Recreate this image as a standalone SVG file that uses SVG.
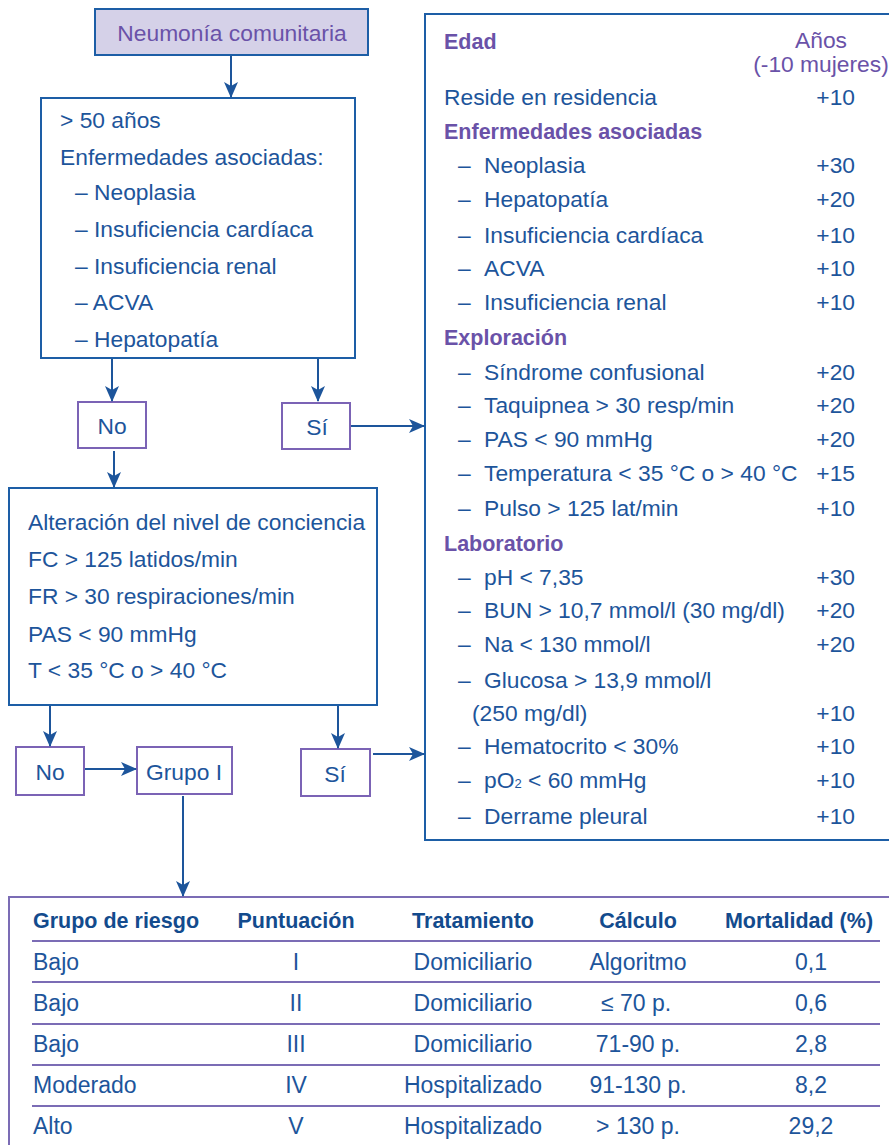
<svg xmlns="http://www.w3.org/2000/svg" width="889" height="1145" viewBox="0 0 889 1145">
<style>
text{font-family:"Liberation Sans",Arial,sans-serif;fill:#1d559b;font-size:22.8px}
.pu{fill:#6a52a8}
.b{font-weight:bold;font-size:21.5px}
.bx{fill:#fff;stroke:#1d5ea6;stroke-width:2}
.sm{fill:#fff;stroke:#7b63b5;stroke-width:2}
.c{stroke:#1d559b;stroke-width:2;fill:none;marker-end:url(#ah)}
.m{text-anchor:middle}
.e{text-anchor:end}
.th{font-weight:bold;fill:#134b8d;font-size:21.5px}
.td{font-size:23px}
.rl{stroke:#7b6cb5;stroke-width:2}
</style>
<defs>
<marker id="ah" markerWidth="16" markerHeight="14" refX="15" refY="7" orient="auto" markerUnits="userSpaceOnUse">
<path d="M0,0 L16,7 L0,14 L4,7 z" fill="#1d559b"/>
</marker>
</defs>

<g id="n-neumonia">
<rect x="95" y="9" width="273" height="46" fill="#d5d1e8" stroke="#1d5ea6" stroke-width="2"/>
<text class="pu m" x="232" y="41">Neumonía comunitaria</text>
</g>

<g id="n-criterios1">
<rect class="bx" x="41" y="98" width="314" height="260"/>
<text x="60" y="128">&gt; 50 años</text>
<text x="60" y="165">Enfermedades asociadas:</text>
<text x="75" y="200">– Neoplasia</text>
<text x="75" y="237">– Insuficiencia cardíaca</text>
<text x="75" y="274">– Insuficiencia renal</text>
<text x="75" y="310">– ACVA</text>
<text x="75" y="347">– Hepatopatía</text>
</g>

<g id="n-no1">
<rect class="sm" x="78" y="402" width="68" height="46"/>
<text class="m" x="112" y="434">No</text>
</g>
<g id="n-si1">
<rect class="sm" x="282" y="403" width="68" height="46"/>
<text class="m" x="317" y="435">Sí</text>
</g>

<g id="n-criterios2">
<rect class="bx" x="9" y="488" width="368" height="217"/>
<text x="28" y="530">Alteración del nivel de conciencia</text>
<text x="28" y="567">FC &gt; 125 latidos/min</text>
<text x="28" y="604">FR &gt; 30 respiraciones/min</text>
<text x="28" y="642">PAS &lt; 90 mmHg</text>
<text x="28" y="678">T &lt; 35 °C o &gt; 40 °C</text>
</g>

<g id="n-no2">
<rect class="sm" x="16" y="747" width="68" height="48"/>
<text class="m" x="50" y="780">No</text>
</g>
<g id="n-grupo1">
<rect class="sm" x="137" y="747" width="95" height="47"/>
<text class="m" x="184" y="780">Grupo I</text>
</g>
<g id="n-si2">
<rect class="sm" x="301" y="749" width="69" height="47"/>
<text class="m" x="335" y="782">Sí</text>
</g>

<g id="n-puntuacion">
<path d="M889,14 H425 V840 H889" fill="#fff" stroke="#1d5ea6" stroke-width="2"/>
<text class="pu b" x="444" y="49">Edad</text>
<text class="pu m" x="821" y="48">Años</text>
<text class="pu m" x="821" y="72">(-10 mujeres)</text>
<text x="444" y="105">Reside en residencia</text><text class="e" x="855" y="105">+10</text>
<text class="pu b" x="444" y="139">Enfermedades asociadas</text>
<text x="458" y="173">–</text><text x="484" y="173">Neoplasia</text><text class="e" x="855" y="173">+30</text>
<text x="458" y="207">–</text><text x="484" y="207">Hepatopatía</text><text class="e" x="855" y="207">+20</text>
<text x="458" y="243">–</text><text x="484" y="243">Insuficiencia cardíaca</text><text class="e" x="855" y="243">+10</text>
<text x="458" y="276">–</text><text x="484" y="276">ACVA</text><text class="e" x="855" y="276">+10</text>
<text x="458" y="310">–</text><text x="484" y="310">Insuficiencia renal</text><text class="e" x="855" y="310">+10</text>
<text class="pu b" x="444" y="345">Exploración</text>
<text x="458" y="380">–</text><text x="484" y="380">Síndrome confusional</text><text class="e" x="855" y="380">+20</text>
<text x="458" y="413">–</text><text x="484" y="413">Taquipnea &gt; 30 resp/min</text><text class="e" x="855" y="413">+20</text>
<text x="458" y="447">–</text><text x="484" y="447">PAS &lt; 90 mmHg</text><text class="e" x="855" y="447">+20</text>
<text x="458" y="481">–</text><text x="484" y="481">Temperatura &lt; 35 °C o &gt; 40 °C</text><text class="e" x="855" y="481">+15</text>
<text x="458" y="516">–</text><text x="484" y="516">Pulso &gt; 125 lat/min</text><text class="e" x="855" y="516">+10</text>
<text class="pu b" x="444" y="551">Laboratorio</text>
<text x="458" y="585">–</text><text x="484" y="585">pH &lt; 7,35</text><text class="e" x="855" y="585">+30</text>
<text x="458" y="618">–</text><text x="484" y="618">BUN &gt; 10,7 mmol/l (30 mg/dl)</text><text class="e" x="855" y="618">+20</text>
<text x="458" y="652">–</text><text x="484" y="652">Na &lt; 130 mmol/l</text><text class="e" x="855" y="652">+20</text>
<text x="458" y="688">–</text><text x="484" y="688">Glucosa &gt; 13,9 mmol/l</text>
<text x="472" y="721">(250 mg/dl)</text><text class="e" x="855" y="721">+10</text>
<text x="458" y="754">–</text><text x="484" y="754">Hematocrito &lt; 30%</text><text class="e" x="855" y="754">+10</text>
<text x="458" y="788">–</text><text x="484" y="788">pO<tspan font-size="13">2</tspan> &lt; 60 mmHg</text><text class="e" x="855" y="788">+10</text>
<text x="458" y="824">–</text><text x="484" y="824">Derrame pleural</text><text class="e" x="855" y="824">+10</text>
</g>

<g id="n-tabla">
<path d="M889,897 H9 V1145" fill="none" stroke="#7b6cb5" stroke-width="2"/>
<line class="rl" x1="32" y1="941" x2="880" y2="941"/>
<line class="rl" x1="32" y1="982" x2="880" y2="982"/>
<line class="rl" x1="32" y1="1024" x2="880" y2="1024"/>
<line class="rl" x1="32" y1="1065" x2="880" y2="1065"/>
<line class="rl" x1="32" y1="1106" x2="880" y2="1106"/>
<text class="th" x="33" y="928">Grupo de riesgo</text>
<text class="th m" x="296" y="928">Puntuación</text>
<text class="th m" x="473" y="928">Tratamiento</text>
<text class="th m" x="638" y="928">Cálculo</text>
<text class="th m" x="799" y="928">Mortalidad (%)</text>
<text class="td" x="33" y="970">Bajo</text><text class="td m" x="296" y="970">I</text><text class="td m" x="473" y="970">Domiciliario</text><text class="td m" x="638" y="970">Algoritmo</text><text class="td m" x="811" y="970">0,1</text>
<text class="td" x="33" y="1011">Bajo</text><text class="td m" x="296" y="1011">II</text><text class="td m" x="473" y="1011">Domiciliario</text><text class="td m" x="636" y="1011">≤ 70 p.</text><text class="td m" x="811" y="1011">0,6</text>
<text class="td" x="33" y="1052">Bajo</text><text class="td m" x="296" y="1052">III</text><text class="td m" x="473" y="1052">Domiciliario</text><text class="td m" x="638" y="1052">71-90 p.</text><text class="td m" x="811" y="1052">2,8</text>
<text class="td" x="33" y="1093">Moderado</text><text class="td m" x="296" y="1093">IV</text><text class="td m" x="473" y="1093">Hospitalizado</text><text class="td m" x="638" y="1093">91-130 p.</text><text class="td m" x="811" y="1093">8,2</text>
<text class="td" x="33" y="1134">Alto</text><text class="td m" x="296" y="1134">V</text><text class="td m" x="473" y="1134">Hospitalizado</text><text class="td m" x="638" y="1134">&gt; 130 p.</text><text class="td m" x="811" y="1134">29,2</text>
</g>

<g id="connectors">
<line class="c" x1="231" y1="56" x2="231" y2="97"/>
<line class="c" x1="112" y1="359" x2="112" y2="401"/>
<line class="c" x1="318" y1="359" x2="318" y2="401"/>
<line class="c" x1="351" y1="426" x2="424" y2="426" stroke-width="2.5"/>
<line class="c" x1="114" y1="451" x2="114" y2="487"/>
<line class="c" x1="50" y1="706" x2="50" y2="746"/>
<line class="c" x1="338" y1="706" x2="338" y2="748"/>
<line class="c" x1="85" y1="769" x2="136" y2="769"/>
<line class="c" x1="373" y1="754" x2="424" y2="754"/>
<line class="c" x1="183" y1="796" x2="183" y2="896"/>
</g>
</svg>
